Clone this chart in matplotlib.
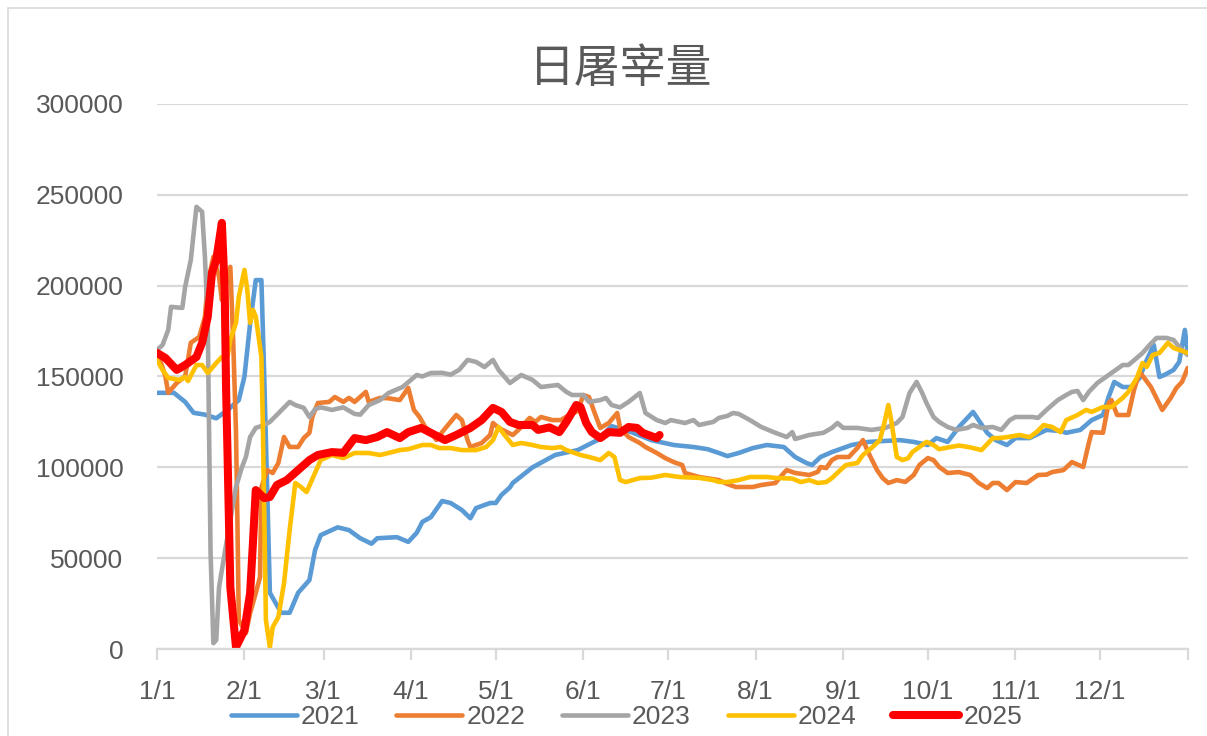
from matplotlib import pyplot as plt
from matplotlib.patches import Rectangle

plt.rcParams['font.family'] = ['Liberation Sans', 'DejaVu Sans']

# day of year (0 = 1/1) and daily slaughter volume
days_2021 = [0, 6, 10, 13, 17, 21, 25, 29, 31, 33, 35, 37, 38, 40, 44, 47, 50, 54, 56, 58, 64, 68, 72, 76, 78,
             85, 89, 92, 94, 97, 101, 104, 108, 111, 113, 118, 120, 122, 125, 126, 133, 141, 149, 156, 161, 168,
             175, 183, 190, 195, 199, 202, 206, 211, 216, 222, 226, 230, 232, 235, 239, 246, 252, 263, 268, 273,
             276, 280, 284, 289, 294, 297, 301, 304, 309, 315, 320, 322, 327, 331, 335, 337, 339, 342, 345, 348,
             350, 353, 355, 357, 360, 362, 364, 365]
vals_2021 = [141000, 141000, 136000, 130000, 129000, 127000, 131500, 137000, 150000, 179000, 203000, 203000,
             150000, 31000, 20000, 20000, 31000, 38000, 54500, 62700, 67000, 65500, 61000, 58000, 61000, 61600,
             59000, 64000, 70000, 72600, 81500, 80400, 76500, 72000, 77600, 80400, 80400, 84800, 89000, 91400,
             100000, 106800, 109500, 115000, 122700, 119400, 115000, 112300, 111200, 110000, 107900, 106200,
             107900, 110600, 112300, 111200, 105700, 102400, 101300, 105700, 108400, 112300, 114000, 115000,
             114000, 112300, 116100, 114000, 122200, 130500, 119000, 115000, 112300, 116100, 116100, 120600,
             120000, 119000, 120600, 126000, 128800, 138700, 147000, 144200, 144200, 149200, 157400, 167300,
             149700, 151000, 153600, 158000, 175600, 163000]

days_2022 = [0, 3, 4, 7, 10, 12, 15, 17, 18, 20, 22, 23, 24, 26, 27, 28, 28.5, 29, 31.5, 33, 35, 36.5, 37, 39,
             41, 43, 45, 47, 50, 52, 54, 55, 57, 61, 63, 66, 68, 70, 74, 75, 79, 82, 86, 89, 91, 93, 95, 97, 99,
             101, 104, 106, 108, 110, 111, 115, 118, 119, 121, 126, 128, 132, 134, 136, 140, 143, 146, 149, 151,
             153, 155, 157, 160, 163, 164, 167, 171, 173, 177, 180, 183, 186, 187, 192, 199, 202, 205, 211, 214,
             219, 222, 223, 226, 231, 234, 235, 237, 239, 241, 245, 248, 250, 252, 255, 257, 259, 262, 265, 268,
             270, 273, 275, 277, 280, 284, 288, 291, 294, 296, 298, 301, 304, 308, 312, 315, 317, 321, 324, 328,
             330, 331, 335, 337, 338, 340, 344, 346, 348, 352, 356, 359, 361, 363, 365]
vals_2022 = [164600, 150000, 141000, 146400, 150000, 168500, 171800, 182800, 201500, 215800, 204800, 192000,
             197600, 210300, 170100, 120000, 71000, 16000, 8800, 19800, 30800, 39600, 89000, 98500, 96900,
             102400, 116700, 111200, 111200, 116100, 119000, 127700, 135400, 136000, 138700, 136000, 138200,
             136000, 141500, 136000, 138200, 138000, 137000, 143700, 131600, 127700, 122200, 119400, 115000,
             119400, 125000, 128800, 126000, 115000, 111200, 113400, 117800, 124400, 121700, 117800, 120600,
             127200, 125000, 127700, 126000, 126000, 128800, 131000, 139800, 138700, 129900, 121700, 124400,
             129900, 121700, 116700, 113400, 111200, 107900, 105100, 102900, 101300, 96900, 94700, 93000, 90800,
             89200, 89200, 90300, 91400, 96900, 98500, 96900, 95800, 97500, 100200, 99600, 104000, 105700,
             105700, 110600, 115000, 107900, 98500, 94100, 91400, 93000, 92000, 95800, 101300, 105100, 104000,
             100200, 96900, 97400, 95800, 91400, 88600, 91400, 91400, 87500, 91900, 91400, 95800, 96000, 97400,
             98500, 102900, 100200, 113400, 119400, 119000, 135400, 137000, 128800, 128800, 142600, 152500,
             144200, 131600, 138200, 143700, 147000, 154700]

days_2023 = [0, 2, 4, 5, 9, 10, 12, 14, 16, 17, 18, 19, 20, 21, 22, 24, 26, 28, 30, 31.5, 33, 35, 38, 40, 47,
             49, 52, 54, 56, 58, 62, 66, 70, 72, 75, 79, 82, 87, 92, 94, 97, 101, 104, 107, 110, 113, 116, 119,
             121, 125, 129, 133, 136, 142, 145, 147, 151, 153, 157, 159, 161, 164, 167, 171, 173, 177, 180, 182,
             187, 190, 192, 197, 199, 202, 204, 206, 210, 214, 219, 223, 225, 226, 231, 236, 239, 241, 243, 248,
             253, 258, 262, 264, 266.5, 269, 271, 272.5, 275, 277, 280, 283, 287, 289, 292, 296, 299, 302, 304,
             310, 312, 315, 319, 322, 324, 326, 328, 330, 333, 336, 338, 342, 344, 347, 349, 351.5, 354, 357.5,
             360, 362, 365]
vals_2023 = [164600, 167300, 175600, 188300, 187700, 199300, 214100, 243300, 240600, 215800, 179500, 52800,
             3300, 5000, 34100, 52800, 71000, 89200, 99600, 105700, 116700, 121700, 123300, 125000, 136000,
             134300, 132700, 127700, 132000, 133000, 131600, 133000, 129400, 129000, 134300, 137000, 140900,
             144200, 150800, 150000, 151900, 152000, 151000, 153600, 159100, 158000, 155200, 159100, 153600,
             146400, 150800, 148100, 144200, 145300, 141500, 139800, 139800, 136000, 137000, 138200, 134300,
             133000, 136000, 140900, 129900, 126000, 124400, 126000, 124400, 126000, 123300, 125000, 127200,
             128300, 129900, 129400, 126000, 122200, 119000, 116700, 119400, 115600, 117800, 119000, 121700,
             124400, 121700, 121700, 120600, 121700, 124400, 127700, 140900, 147000, 140900, 135400, 127700,
             125000, 122200, 120600, 121700, 123300, 121700, 122200, 120600, 126000, 127700, 127700, 127200,
             131600, 137000, 139800, 141500, 142000, 137000, 141500, 146400, 149700, 151900, 156300, 156300,
             160200, 162900, 167300, 171200, 171200, 170100, 166200, 161800]

days_2024 = [0, 2, 4, 8, 10, 11, 14, 16, 18, 21, 23, 25, 26, 28, 29, 31, 32, 33, 34, 35, 37, 37.5, 38.6, 40,
             41, 43, 45, 47, 49, 51, 53, 56, 58, 62, 66, 70, 75, 79, 82, 86, 89, 94, 97, 100, 104, 108, 113, 116.6,
             119, 121, 123, 126, 129, 133, 136, 140, 143, 145, 150, 153, 157, 160, 162, 164, 166, 171, 175, 180,
             185, 192, 197, 199, 202, 206, 210, 216, 219, 225, 228, 231, 234, 237, 239, 242, 244, 248, 250, 253,
             256, 257.6, 259, 260, 262, 264, 266, 267.5, 270, 272.5, 275, 277, 281, 284, 288, 292, 296, 298, 301,
             305.5, 309, 311.5, 314, 317, 320, 322, 326, 329, 331, 335, 338, 342, 344, 347, 349, 350.5, 352.6,
             355, 358, 360, 362, 365]
vals_2024 = [159100, 153600, 149200, 148100, 149700, 147500, 156300, 156300, 151900, 157400, 160700, 160700,
             170100, 179500, 193800, 208600, 197600, 179500, 186600, 183000, 160700, 124400, 16000, 1100, 12100,
             17600, 36300, 65500, 91400, 89200, 86400, 96900, 104000, 106800, 105100, 107900, 107900, 106800,
             107900, 109500, 110000, 112300, 112300, 110600, 110600, 109500, 109500, 111200, 115000, 122200,
             118000, 112300, 113400, 112300, 111200, 110600, 111200, 109500, 106800, 105700, 104000, 107900,
             105700, 93000, 91900, 94100, 94300, 95800, 94700, 94200, 93000, 92000, 91900, 93000, 94700, 94700,
             94200, 93800, 91900, 93000, 91400, 91900, 94100, 98500, 101300, 102400, 106800, 110600, 115000,
             124400, 134300, 126000, 105700, 104000, 105000, 108400, 111200, 114000, 112300, 110000, 111200,
             112000, 111000, 109500, 116100, 116100, 116600, 117800, 116600, 119400, 123300, 122200, 119400,
             126000, 128800, 131600, 130500, 133200, 133200, 138200, 141500, 149200, 157400, 155200, 161800,
             162900, 168500, 165700, 164600, 163000]

days_2025 = [0, 3, 7, 10, 14, 16, 18, 19.5, 21, 23, 24, 24.5, 25, 26, 28, 31, 33, 34, 35, 38, 40, 42.5, 46,
             50, 54, 57, 62, 66, 70, 74, 78, 81.5, 86, 89, 93.6, 97, 102, 106, 111, 115, 119, 122, 125, 128, 133,
             135, 139, 142.5, 145, 148.5, 150, 152, 154, 157, 160, 164, 167, 170, 172, 174, 177, 178]
vals_2025 = [163000, 160200, 153600, 156300, 160700, 168500, 182800, 207000, 214100, 234500, 197600, 142600,
             107900, 34100, 1100, 10500, 30800, 58300, 87500, 83100, 83700, 90300, 93000, 98500, 104000, 106800,
             108400, 108000, 116100, 115000, 116700, 119400, 116100, 119400, 121700, 119000, 115000, 117800,
             121700, 126000, 132700, 130500, 125000, 123300, 123300, 120600, 122000, 119400, 125000, 134300,
             133200, 124400, 119400, 116100, 119400, 119000, 122200, 121700, 119000, 117800, 116100, 117800]

years = ['2021', '2022', '2023', '2024', '2025']
colors = ['#5B9BD5', '#ED7D31', '#A5A5A5', '#FFC000', '#FF0000']
month_days = [0, 31, 59, 90, 120, 151, 181, 212, 243, 273, 304, 334]
month_labels = ['1/1', '2/1', '3/1', '4/1', '5/1', '6/1', '7/1', '8/1', '9/1', '10/1', '11/1', '12/1']

fig = plt.figure(figsize=(12.07, 7.36), dpi=100)
ax = fig.add_axes([0.130, 0.118, 0.854, 0.741])

all_days = [days_2021, days_2022, days_2023, days_2024, days_2025]
all_vals = [vals_2021, vals_2022, vals_2023, vals_2024, vals_2025]
for i in range(len(years)):
    lw = 5.8 if years[i] == '2025' else 3.3
    ax.plot(all_days[i], all_vals[i], color=colors[i], lw=lw, label=years[i],
            solid_joinstyle='round', solid_capstyle='round')

ax.set_xlim(0, 365)
ax.set_ylim(0, 300000)
ax.set_yticks(range(0, 300001, 50000))
ax.set_xticks(month_days + [365])
ax.set_xticklabels(month_labels + [''])
ax.grid(axis='y', color='#D9D9D9', lw=1.6)
ax.set_axisbelow(True)
for s in ['top', 'right', 'left']:
    ax.spines[s].set_visible(False)
ax.spines['bottom'].set_color('#D9D9D9')
ax.spines['bottom'].set_linewidth(1.6)
ax.tick_params(axis='y', length=0, pad=24, labelsize=19, labelcolor='#595959')
ax.tick_params(axis='x', length=8, width=1.6, color='#D9D9D9', pad=14, labelsize=19, labelcolor='#595959')

fig.text(0.514, 0.906, '日屠宰量', ha='center', va='center', fontsize=33, color='#595959',
         family=['Noto Sans CJK SC', 'DejaVu Sans'])

fig.legend(loc='center', bbox_to_anchor=(0.519, 0.026), ncol=5, frameon=False, fontsize=19,
           handlelength=2.5, handletextpad=0.15, columnspacing=1.4, labelcolor='#595959')

fig.patches.append(Rectangle((0.007, -0.01), 1.0, 0.999, transform=fig.transFigure, fill=False,
                             edgecolor='#D9D9D9', lw=1.2))

plt.savefig('out.png', dpi=100)
